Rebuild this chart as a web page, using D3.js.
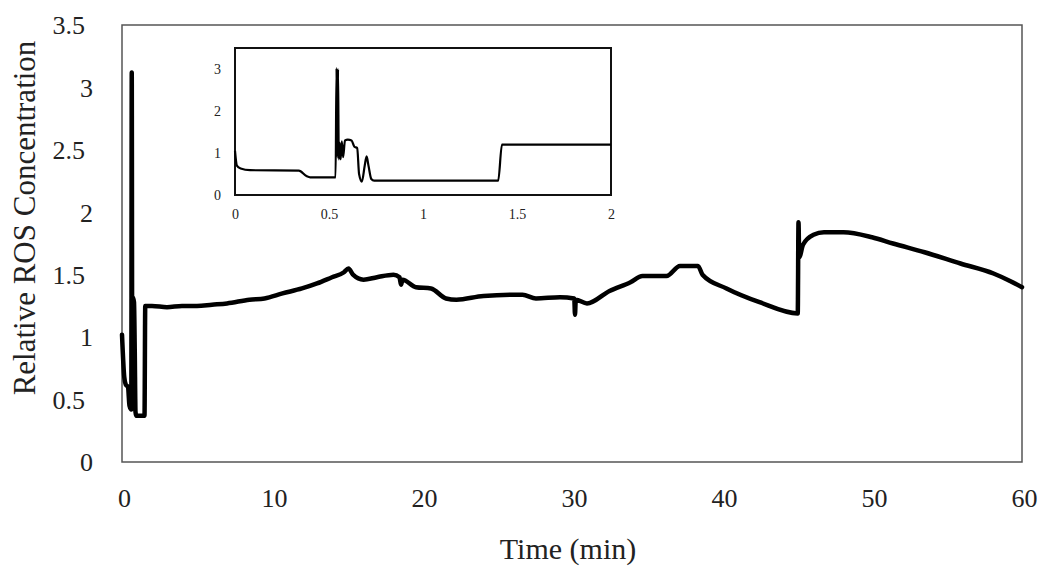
<!DOCTYPE html>
<html>
<head>
<meta charset="utf-8">
<script src="https://cdn.jsdelivr.net/npm/d3@7"></script>
<style>
  html, body { margin: 0; padding: 0; background: #fff; }
  svg { display: block; }
  text { font-family: "Liberation Serif", "Times New Roman", serif; fill: #222; }
</style>
</head>
<body>
<svg id="chart" width="1050" height="576"></svg>
<script>
// ---- Main series (Time in min, relative ROS concentration) ----
const mainTime = [0, 0.15, 0.25, 0.4, 0.5, 0.62, 0.65, 0.68, 0.72, 0.8, 0.85, 0.9, 0.95, 1.5, 1.55, 2,
  3, 4, 5, 6, 7, 8.5, 9.5, 10.7, 12, 13, 14, 14.8, 15.1, 15.4, 16.1, 17, 18.1, 18.5, 18.6, 18.7,
  19.6, 20.6, 21.6, 22.3, 24.1, 26.7, 27.6, 29.2, 30.15, 30.2, 30.25, 31, 32.5, 33.9, 34.7, 36.3,
  37.2, 38.4, 38.7, 40.3, 42.5, 45.05, 45.1, 45.15, 45.4, 46.1, 46.8, 48.1, 50, 51.4, 53.5, 55.9,
  58.1, 59.2, 60];
const mainValue = [1.02, 0.68, 0.62, 0.6, 0.45, 0.42, 3.12, 0.9, 1.32, 1.28, 0.9, 0.4, 0.37, 0.37, 1.25, 1.25,
  1.24, 1.25, 1.25, 1.26, 1.27, 1.30, 1.31, 1.35, 1.39, 1.43, 1.48, 1.52, 1.55, 1.50, 1.46, 1.48, 1.50, 1.48, 1.42, 1.46,
  1.40, 1.39, 1.31, 1.30, 1.33, 1.34, 1.31, 1.32, 1.31, 1.18, 1.30, 1.27, 1.37, 1.44, 1.49, 1.49,
  1.57, 1.57, 1.50, 1.39, 1.28, 1.19, 1.92, 1.64, 1.74, 1.82, 1.84, 1.84, 1.80, 1.75, 1.68, 1.59,
  1.51, 1.45, 1.40];

// ---- Inset series (first 2 min) ----
const insetTime = [0, 0.01, 0.03, 0.08, 0.34, 0.38, 0.4, 0.535, 0.54, 0.544, 0.548, 0.552, 0.556, 0.562,
  0.568, 0.575, 0.585, 0.6, 0.62, 0.635, 0.65, 0.66, 0.675, 0.69, 0.7, 0.71, 0.725, 0.74, 1.4, 1.42, 2];
const insetValue = [1.05, 0.7, 0.63, 0.59, 0.58, 0.45, 0.42, 0.42, 3.02, 0.9, 3.0, 0.85, 1.25, 0.85,
  1.28, 0.9, 1.3, 1.32, 1.3, 1.15, 1.12, 0.5, 0.32, 0.7, 0.92, 0.7, 0.38, 0.34, 0.34, 1.2, 1.2];

// ---- Tick labels ----
const mainXTicks = [0, 10, 20, 30, 40, 50, 60];
const mainYTicks = [0, 0.5, 1, 1.5, 2, 2.5, 3, 3.5];
const insetXTicks = [0, 0.5, 1, 1.5, 2];
const insetYTicks = [0, 1, 2, 3];

const xTitle = "Time (min)";
const yTitle = "Relative ROS Concentration";

const svg = d3.select("#chart");

// Main scales
const x = d3.scaleLinear().domain([0, 60]).range([122, 1022]);
const y = d3.scaleLinear().domain([0, 3.5]).range([462, 25]);

// Plot frame
svg.append("rect")
  .attr("x", x(0)).attr("y", y(3.5))
  .attr("width", x(60) - x(0)).attr("height", y(0) - y(3.5))
  .attr("fill", "none").attr("stroke", "#555").attr("stroke-width", 1.5);

// Axes (labels only, no tick marks)
const xAxis = d3.axisBottom(x).tickValues(mainXTicks).tickSize(0).tickPadding(0).tickFormat(d3.format("d"));
const gx = svg.append("g").attr("transform", `translate(2, ${y(0) + 37})`).call(xAxis);
gx.select(".domain").remove();
gx.selectAll("text").attr("font-size", 26).attr("dy", "0.32em")
  .style("font-family", '"Liberation Serif", serif').attr("fill", "#222");

const yAxis = d3.axisLeft(y).tickValues(mainYTicks).tickSize(0).tickPadding(0).tickFormat(d => String(d));
const gy = svg.append("g").attr("transform", `translate(93, 0)`).call(yAxis);
gy.select(".domain").remove();
gy.selectAll("text").attr("font-size", 26).attr("dy", "0.34em")
  .attr("dx", d => (String(d).includes(".") ? -8 : 0))
  .style("font-family", '"Liberation Serif", serif').attr("fill", "#222");

// Axis titles
svg.append("text").attr("x", 568).attr("y", 559).attr("text-anchor", "middle")
  .attr("font-size", 30).text(xTitle);
svg.append("text").attr("transform", "translate(35, 218) rotate(-90)")
  .attr("text-anchor", "middle").attr("font-size", 31).text(yTitle);

// Main line
const mainData = mainTime.map((t, i) => [t, mainValue[i]]);
svg.append("path").datum(mainData)
  .attr("fill", "none").attr("stroke", "#000").attr("stroke-width", 4.5)
  .attr("stroke-linejoin", "round").attr("stroke-linecap", "round")
  .attr("d", d3.line().curve(d3.curveMonotoneX).x(d => x(d[0])).y(d => y(d[1])));

// ---- Inset ----
const ix = d3.scaleLinear().domain([0, 2]).range([235, 611]);
const iy = d3.scaleLinear().domain([0, 3.5]).range([195, 48]);

svg.append("rect")
  .attr("x", ix(0)).attr("y", iy(3.5))
  .attr("width", ix(2) - ix(0)).attr("height", iy(0) - iy(3.5))
  .attr("fill", "#fff").attr("stroke", "#111").attr("stroke-width", 2);

const ixAxis = d3.axisBottom(ix).tickValues(insetXTicks).tickSize(0).tickPadding(0).tickFormat(d => String(d));
const gix = svg.append("g").attr("transform", `translate(0, ${iy(0) + 20})`).call(ixAxis);
gix.select(".domain").remove();
gix.selectAll("text").attr("font-size", 14).attr("dy", "0.32em")
  .style("font-family", '"Liberation Serif", serif').attr("fill", "#333");

const iyAxis = d3.axisLeft(iy).tickValues(insetYTicks).tickSize(0).tickPadding(0).tickFormat(d => String(d));
const giy = svg.append("g").attr("transform", `translate(221, 0)`).call(iyAxis);
giy.select(".domain").remove();
giy.selectAll("text").attr("font-size", 14).attr("dy", "0.32em")
  .style("font-family", '"Liberation Serif", serif').attr("fill", "#333");

const insetData = insetTime.map((t, i) => [t, insetValue[i]]);
svg.append("path").datum(insetData)
  .attr("fill", "none").attr("stroke", "#000").attr("stroke-width", 2.2)
  .attr("stroke-linejoin", "round")
  .attr("d", d3.line().curve(d3.curveMonotoneX).x(d => ix(d[0])).y(d => iy(d[1])));
</script>
</body>
</html>
